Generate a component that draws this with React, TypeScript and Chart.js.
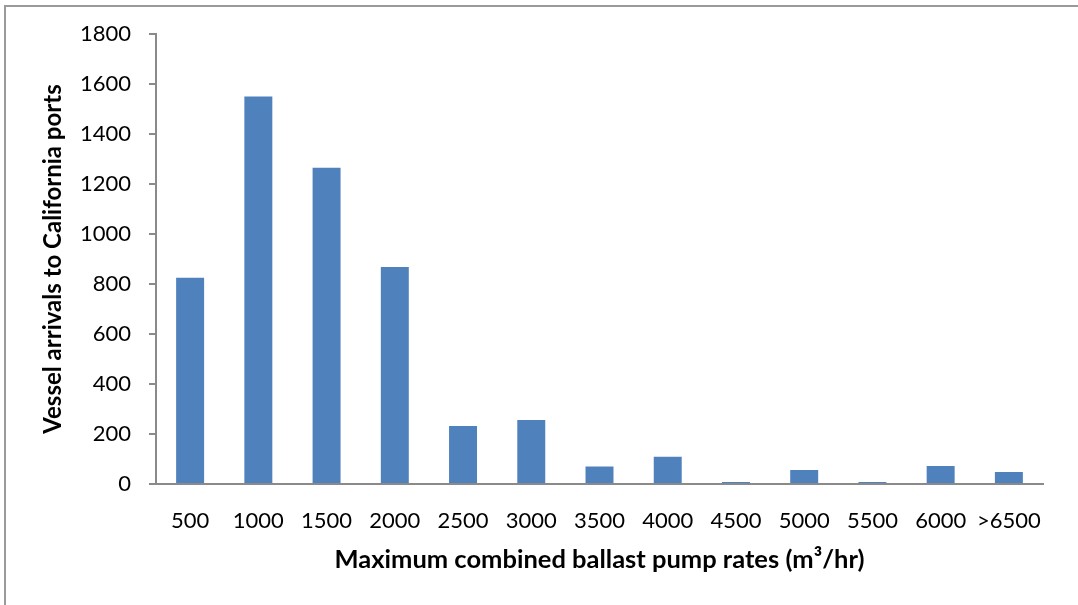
import React, { useEffect, useRef } from "react";
import { Chart, registerables } from "chart.js";

Chart.register(...registerables);

const categories = ["500", "1000", "1500", "2000", "2500", "3000", "3500", "4000", "4500", "5000", "5500", "6000", ">6500"];
const arrivals = [825, 1550, 1265, 868, 232, 256, 70, 109, 8, 56, 8, 72, 48];
const yTicksMin = 0;
const yTicksMax = 1800;
const yTickStep = 200;
const xTitle = "Maximum combined ballast pump rates (m³/hr)";
const yTitle = "Vessel arrivals to California ports";

const FONT = "Lato, 'Open Sans', sans-serif";
const AXIS_GRAY = "#8a8a8a";

export default function App() {
  const ref = useRef<HTMLCanvasElement | null>(null);

  useEffect(() => {
    if (!ref.current) return;
    const chart = new Chart(ref.current, {
      type: "bar",
      data: {
        labels: categories,
        datasets: [
          {
            label: "Vessel arrivals",
            data: arrivals,
            backgroundColor: "#4F81BD",
            borderWidth: 0,
            barPercentage: 0.41,
            categoryPercentage: 1,
          },
        ],
      },
      options: {
        animation: false,
        responsive: false,
        maintainAspectRatio: false,
        layout: { padding: { top: 34, right: 35, left: 0, bottom: 0 } },
        plugins: {
          legend: { display: false },
          tooltip: { enabled: false },
        },
        scales: {
          x: {
            afterFit: (scale: any) => {
              scale.height = 121;
            },
            grid: { display: false, drawTicks: false, tickLength: 0 },
            border: { display: true, color: AXIS_GRAY, width: 2 },
            ticks: {
              color: "#000",
              font: { family: FONT, size: 22 },
              padding: 24,
              maxRotation: 0,
              autoSkip: false,
            },
            title: {
              display: true,
              text: xTitle,
              color: "#000",
              font: { family: FONT, size: 25.5, weight: "bold" },
              padding: { top: 0, bottom: 30 },
            },
          },
          y: {
            min: yTicksMin,
            max: yTicksMax,
            afterFit: (scale: any) => {
              scale.width = 156;
            },
            grid: {
              display: true,
              drawOnChartArea: false,
              drawTicks: true,
              tickLength: 7,
              color: AXIS_GRAY,
              lineWidth: 2,
            },
            border: { display: true, color: AXIS_GRAY, width: 2 },
            ticks: {
              stepSize: yTickStep,
              color: "#000",
              font: { family: FONT, size: 22 },
              padding: 18,
              callback: (v: any) => String(v),
            },
            title: {
              display: true,
              text: yTitle,
              color: "#000",
              font: { family: FONT, size: 24, weight: "bold" },
              padding: { top: 39, bottom: 0 },
            },
          },
        },
      },
    });
    return () => chart.destroy();
  }, []);

  return (
    <div style={{ position: "absolute", left: 0, top: 0, width: 1078, height: 605, background: "#fff" }}>
      <div
        style={{
          position: "absolute",
          left: 4,
          top: 5,
          right: 0,
          bottom: 0,
          borderLeft: "2px solid #9a9a9a",
          borderTop: "2px solid #9a9a9a",
        }}
      />
      <canvas ref={ref} width={1078} height={605} style={{ position: "absolute", left: 0, top: 0 }} />
    </div>
  );
}
